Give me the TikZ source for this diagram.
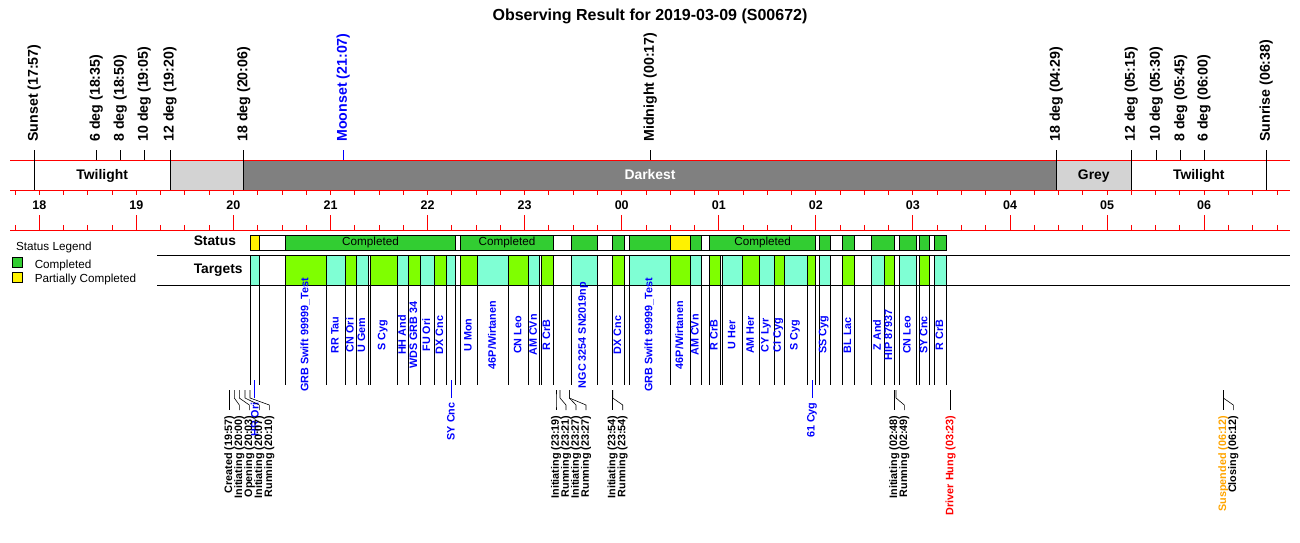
\documentclass[tikz,border=0pt]{standalone}
\usepackage{fontspec}
\setmainfont{Liberation Sans}
\definecolor{stgreen}{HTML}{32CD32}
\definecolor{tglime}{HTML}{7FFF00}
\definecolor{tgaqua}{HTML}{7FFFD4}
\definecolor{dkgrey}{HTML}{808080}
\definecolor{ltgrey}{HTML}{D3D3D3}
\definecolor{orng}{HTML}{FFA500}
\definecolor{evblue}{HTML}{0000FF}
\begin{document}
\begin{tikzpicture}[x=1pt,y=-1pt,line width=0.9pt,
  toplabel/.style={rotate=90,anchor=west,inner sep=0pt,font=\bfseries\fontsize{14.2}{16}\selectfont},
  barlabel/.style={anchor=base,inner sep=0pt,font=\bfseries\fontsize{13.9}{16}\selectfont},
  hourlabel/.style={anchor=base,inner sep=0pt,font=\bfseries\fontsize{12.5}{14}\selectfont},
  tlabel/.style={rotate=90,anchor=center,inner sep=0pt,text=evblue,font=\bfseries\fontsize{10.8}{12}\selectfont},
  tlabelbelow/.style={rotate=90,anchor=east,inner sep=0pt,text=evblue,font=\bfseries\fontsize{10.8}{12}\selectfont},
  evlabel/.style={rotate=90,anchor=east,inner sep=0pt,font=\bfseries\fontsize{10.8}{12}\selectfont},
  stlabel/.style={anchor=base,inner sep=0pt,font=\fontsize{11.7}{13}\selectfont},
  leglabel/.style={anchor=base west,inner sep=0pt,font=\fontsize{11.7}{13}\selectfont},
  rowlabel/.style={anchor=base west,inner sep=0pt,font=\bfseries\fontsize{13.8}{16}\selectfont},
  segbox/.style={draw=black,line width=0.9pt},
  redline/.style={draw=red,line width=0.9pt},
  evline/.style={draw=black,line width=0.6pt}]
\useasboundingbox[fill=white] (0,0) rectangle (1300,543);

% title
\node[anchor=base,inner sep=0pt,font=\bfseries\fontsize{16}{18}\selectfont] (title) at (650,20.7) {Observing Result for 2019-03-09 (S00672)};

% top night bar
\fill[white] (10,160) rectangle (170,190);
\fill[ltgrey] (170,160) rectangle (243.7,190);
\fill[dkgrey] (243.7,160) rectangle (1056.3,190);
\fill[ltgrey] (1056.3,160) rectangle (1131.3,190);
\fill[white] (1131.3,160) rectangle (1290,190);
\draw[redline] (10,160) -- (1290,160);
\draw[redline] (10,190) -- (1290,190);
\node[barlabel] (tw1) at (102.2,179.5) {Twilight};
\node[barlabel,text=white] (dark) at (650,179.5) {Darkest};
\node[barlabel] (grey) at (1093.8,179.5) {Grey};
\node[barlabel] (tw2) at (1198.8,179.5) {Twilight};

% event lines through bar
\foreach \x in {34.3,170,243.7,1056.3,1131.3,1266.3}{\draw (\x,150) -- (\x,190);}
\foreach \x in {96.3,120.3,144.3,650.3,1156.3,1180.7,1204}{\draw (\x,150) -- (\x,160);}
\draw[evblue] (343.3,150) -- (343.3,160);

% top labels
\node[toplabel] (sunset) at (34.3,142) {Sunset (17:57)};
\node[toplabel] (d6a) at (96.3,142) {6 deg (18:35)};
\node[toplabel] (d8a) at (120.3,142) {8 deg (18:50)};
\node[toplabel] (d10a) at (144.3,142) {10 deg (19:05)};
\node[toplabel] (d12a) at (170,142) {12 deg (19:20)};
\node[toplabel] (d18a) at (243.7,142) {18 deg (20:06)};
\node[toplabel,text=evblue] (moonset) at (343.3,142) {Moonset (21:07)};
\node[toplabel] (midnight) at (650.3,142) {Midnight (00:17)};
\node[toplabel] (d18b) at (1056.3,142) {18 deg (04:29)};
\node[toplabel] (d12b) at (1131.3,142) {12 deg (05:15)};
\node[toplabel] (d10b) at (1156.3,142) {10 deg (05:30)};
\node[toplabel] (d8b) at (1180.7,142) {8 deg (05:45)};
\node[toplabel] (d6b) at (1204,142) {6 deg (06:00)};
\node[toplabel] (sunrise) at (1266.3,142) {Sunrise (06:38)};

% hour axis
\foreach \m in {-1,...,51}{\draw[redline] ({39.3+97.07*\m/4},190) -- ({39.3+97.07*\m/4},195);}
\foreach \h [count=\k from 0] in {18,19,20,21,22,23,00,01,02,03,04,05,06}{
  \node[hourlabel] (h\k) at ({39.3+97.07*\k},209.3) {\h};
  \draw[redline] ({39.3+97.07*\k},215) -- ({39.3+97.07*\k},230.5);}
\foreach \m in {-1,...,51}{\draw[redline] ({39.3+97.07*\m/4},225) -- ({39.3+97.07*\m/4},230.5);}
\draw[redline] (10,230.5) -- (1290,230.5);

% legend
\node[leglabel] (legtitle) at (15.7,250) {Status Legend};
\draw[fill=stgreen,line width=0.8pt] (12.3,257.3) rectangle (22.3,267.3);
\node[leglabel] (legc) at (34.3,268.3) {Completed};
\draw[fill=yellow,line width=0.8pt] (12.3,272.7) rectangle (22.3,282.3);
\node[leglabel] (legp) at (34.3,282.7) {Partially Completed};

% row labels
\node[rowlabel] (statuslbl) at (193.3,245.7) {Status};
\node[rowlabel] (targetslbl) at (193.3,273.3) {Targets};

% status bar
\foreach \a/\b/\c in {250.3/259.3/yellow,259.3/285.3/white,285.3/455.7/stgreen,455.7/460.7/white,460.7/553.3/stgreen,553.3/571.3/white,571.3/597.3/stgreen,597.3/612.3/white,612.3/624.7/stgreen,624.7/629.7/white,629.7/670.7/stgreen,670.7/690/yellow,690/701.7/stgreen,701.7/709.7/white,709.7/815.7/stgreen,815.7/819.3/white,819.3/830.3/stgreen,830.3/842.7/white,842.7/854.3/stgreen,854.3/871.7/white,871.7/894.3/stgreen,894.3/899.3/white,899.3/916.7/stgreen,916.7/919.7/white,919.7/929.7/stgreen,929.7/934.3/white,934.3/946.7/stgreen}{
  \draw[segbox,fill=\c] (\a,235.3) rectangle (\b,250);}
\node[stlabel] (c1) at (370.5,245.7) {Completed};
\node[stlabel] (c2) at (507,245.7) {Completed};
\node[stlabel] (c3) at (762.7,245.7) {Completed};

% target row lines
\draw (157,255.7) -- (1290,255.7);
\draw (157,285.3) -- (1290,285.3);

% target bar
\foreach \a/\b/\c/\n in {
  250.3/259.3/tgaqua/{},259.3/285.3/white/{},
  285.3/326.7/tglime/{GRB Swift 99999\_Test},326.7/345/tgaqua/{RR Tau},
  345/356.3/tglime/{CN Ori},356.3/368.3/tgaqua/{U Gem},368.3/370/white/{},
  370/397.3/tglime/{S Cyg},397.3/408.7/tgaqua/{HH And},408.7/420.3/tglime/{WDS GRB 34},
  420.3/434.3/tgaqua/{FU Ori},434.3/446.3/tglime/{DX Cnc},446.3/455.7/tgaqua/{},
  455.7/460.7/white/{},460.7/477.3/tglime/{U Mon},477.3/508.7/tgaqua/{46P/Wirtanen},
  508.7/528.7/tglime/{CN Leo},528.7/539.7/tgaqua/{AM CVn},539.7/541.3/white/{},
  541.3/553.3/tglime/{R CrB},553.3/571.3/white/{},571.3/597.3/tgaqua/{NGC 3254 SN2019np},
  597.3/612.3/white/{},612.3/624.7/tglime/{DX Cnc},624.7/629.7/white/{},
  629.7/670.7/tgaqua/{GRB Swift 99999\_Test},670.7/690/tglime/{46P/Wirtanen},
  690/701.7/tgaqua/{AM CVn},701.7/709.7/white/{},709.7/720.3/tglime/{R CrB},
  720.3/722.7/white/{},722.7/742.7/tgaqua/{U Her},742.7/759.7/tglime/{AM Her},
  759.7/774/tgaqua/{CY Lyr},774/784.7/tglime/{CI Cyg},784.7/807.3/tgaqua/{S Cyg},
  807.3/815.7/tglime/{},815.7/819.3/white/{},819.3/830.3/tgaqua/{SS Cyg},
  830.3/842.7/white/{},842.7/854.3/tglime/{BL Lac},854.3/871.7/white/{},
  871.7/884.3/tgaqua/{Z And},884.3/894.3/tglime/{HIP 87937},894.3/899.3/white/{},
  899.3/916.7/tgaqua/{CN Leo},916.7/919.7/white/{},919.7/929.7/tglime/{SY Cnc},
  929.7/934.3/white/{},934.3/946.7/tgaqua/{R CrB}}{
  \draw[segbox,fill=\c] (\a,255.7) rectangle (\b,285.3);
  \draw (\a,285.3) -- (\a,385);
  \node[tlabel] at ({(\a+\b)/2-1},335) {\n};}
\draw (946.7,285.3) -- (946.7,385);

% narrow targets, labels below
\foreach \x/\n in {254.7/{HR Ori},451/{SY Cnc},812/{61 Cyg}}{
  \draw[evblue] (\x,380) -- (\x,398);
  \node[tlabelbelow] at (\x,402) {\n};}

% status events
\foreach \xe/\xl/\c/\n [count=\i] in {
  229.3/229.3/black/{Created (19:57)},234.3/239.3/black/{Initiating (20:00)},
  239.3/249.3/black/{Opening (20:03)},245/259.3/black/{Initiating (20:07)},
  250/269.3/black/{Running (20:10)},556/556/black/{Initiating (23:19)},
  560/566/black/{Running (23:21)},569.3/576/black/{Initiating (23:27)},
  569.3/586/black/{Running (23:27)},612.7/612.7/black/{Initiating (23:54)},
  612.7/622.7/black/{Running (23:54)},894.3/894.3/black/{Initiating (02:48)},
  896/904.3/black/{Running (02:49)},950.7/950.7/red/{Driver Hung (03:23)},
  1223.3/1223.3/orng/{Suspended (06:12)},1223.3/1233.3/black/{Closing (06:12)}}{
  \coordinate (e\i a) at (\xe,390);
  \coordinate (e\i b) at (\xe,398);
  \coordinate (e\i c) at (\xl,405);
  \coordinate (e\i d) at (\xl,410);
  \draw[evline] (e\i a) -- (e\i b) -- (e\i c) -- (e\i d);
  \node[evlabel,text=\c] (ev\i) at (\xl,415) {\n};}
\end{tikzpicture}
\end{document}
